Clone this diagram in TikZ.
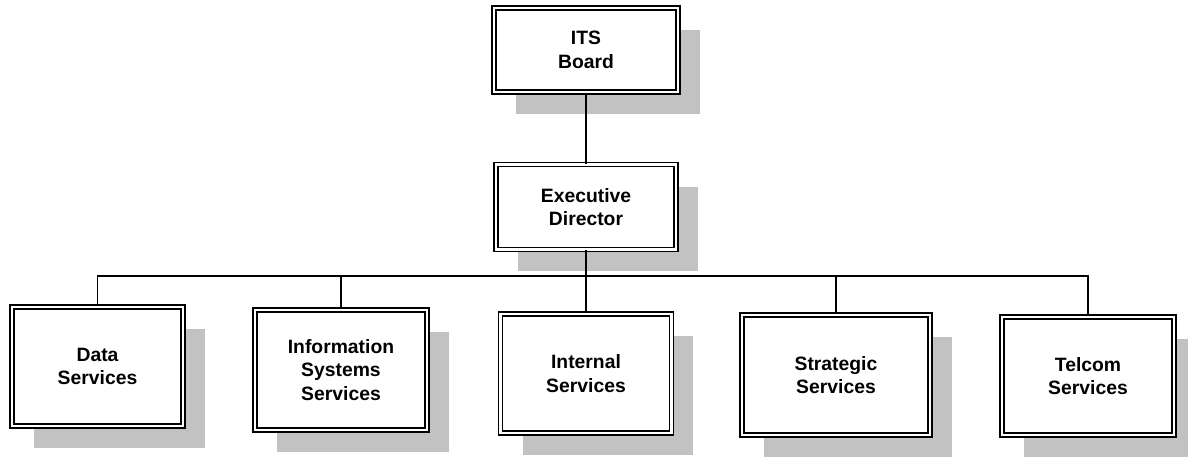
\documentclass[tikz,border=0pt]{standalone}
\usepackage{fontspec}
\setmainfont{Liberation Sans}
\usetikzlibrary{shadows}
\begin{document}
\begin{tikzpicture}[x=0.02cm,y=-0.02cm,
    unit/.style={draw,rectangle,line width=0.7pt,double,double distance=1.5pt,
      fill=white,align=center,inner sep=0pt,
      font=\bfseries\fontsize{11}{13.5}\selectfont,
      drop shadow={shadow xshift=0.44cm,shadow yshift=-0.44cm,fill=black!24,opacity=1}},
    bar/.style={line width=0.8pt}]
    \useasboundingbox (0,0) rectangle (1188,457);

    \node[unit,minimum width=3.68cm,minimum height=1.68cm] (board) at (586,50) {ITS\\Board};
    \node[unit,minimum width=3.60cm,minimum height=1.70cm] (director) at (586,207) {Executive\\Director};

    \node[unit,minimum width=3.42cm,minimum height=2.38cm] (data) at (97.5,366.5) {Data\\Services};
    \node[unit,minimum width=3.44cm,minimum height=2.40cm] (info) at (341,370) {Information\\Systems\\Services};
    \node[unit,minimum width=3.42cm,minimum height=2.38cm] (internal) at (586,373.5) {Internal\\Services};
    \node[unit,minimum width=3.76cm,minimum height=2.40cm] (strategic) at (836,375) {Strategic\\Services};
    \node[unit,minimum width=3.44cm,minimum height=2.36cm] (telcom) at (1088,376) {Telcom\\Services};

    \coordinate (bus) at (586,276);

    \draw[line width=1.2pt] (board) -- (director);
    \draw[bar] (director) -- (bus);
    \draw[bar] (bus) -| (data.north);
    \draw[bar] (bus) -| (info.north);
    \draw[bar] (bus) -- (internal.north);
    \draw[bar] (bus) -| (strategic.north);
    \draw[bar] (bus) -| (telcom.north);
\end{tikzpicture}
\end{document}
